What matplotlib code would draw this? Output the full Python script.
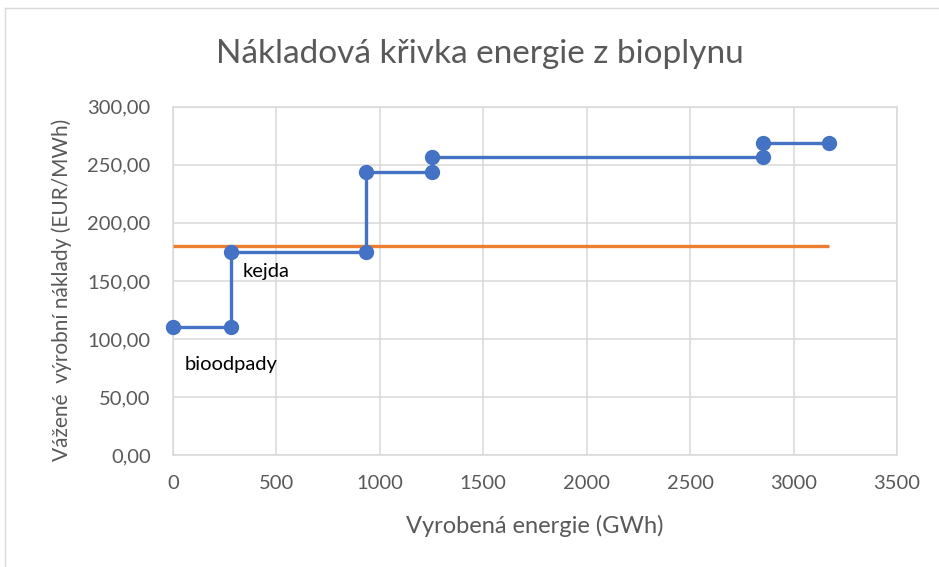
import matplotlib
matplotlib.use("Agg")
import matplotlib.pyplot as plt
from matplotlib.lines import Line2D
from matplotlib.ticker import FuncFormatter

# data
energie = [0, 280, 280, 933, 933, 1254, 1254, 2850, 2850, 3170]
naklady = [110, 110, 175, 175, 244, 244, 257, 257, 269, 269]
hranice_x = [0, 3170]
hranice_y = [180, 180]

popisky = ["bioodpady", "kejda"]
popisky_x = [55, 335]
popisky_y = [78, 158]

x_ticks = [0, 500, 1000, 1500, 2000, 2500, 3000, 3500]
y_ticks = [0, 50, 100, 150, 200, 250, 300]

plt.rcParams['font.family'] = ['Lato', 'DejaVu Sans']
seda = '#595959'

fig = plt.figure(figsize=(9.39, 5.67), dpi=100)
ax = fig.add_axes([0.1842, 0.1972, 0.7711, 0.6146])

ax.plot(hranice_x, hranice_y, color='#ED7D31', lw=2.4, solid_capstyle='butt', zorder=3)
ax.plot(energie, naklady, color='#4472C4', lw=2.4, marker='o', markersize=10,
        zorder=4, clip_on=False)

for t, px, py in zip(popisky, popisky_x, popisky_y):
    ax.text(px, py, t, fontsize=14.5, color='black', va='center', ha='left')

ax.set_xlim(0, 3500)
ax.set_ylim(0, 300)
ax.set_xticks(x_ticks)
ax.set_yticks(y_ticks)
ax.yaxis.set_major_formatter(FuncFormatter(lambda v, p: f"{v:.2f}".replace('.', ',')))
ax.grid(True, color='#D9D9D9', lw=1.1)
ax.set_axisbelow(True)
for s in ax.spines.values():
    s.set_color('#D9D9D9')
    s.set_linewidth(1.1)
ax.tick_params(length=0, labelsize=14.5, colors=seda)
ax.tick_params(axis='y', pad=16)
ax.tick_params(axis='x', pad=14)

ax.set_xlabel("Vyrobená energie (GWh)", fontsize=17, color=seda, labelpad=17)
ax.set_ylabel("Vážené  výrobní náklady (EUR/MWh)", fontsize=15, color=seda)
ax.yaxis.set_label_coords(-0.139, 0.473)
fig.text(0.511, 0.905, "Nákladová křivka energie z bioplynu", fontsize=24, color=seda,
         ha='center', va='center')

# chart frame visible at left and top
fig.add_artist(Line2D([5/939, 5/939], [0, 1 - 8/567], transform=fig.transFigure, color='#D9D9D9', lw=1))
fig.add_artist(Line2D([5/939, 1], [1 - 8/567, 1 - 8/567], transform=fig.transFigure, color='#D9D9D9', lw=1))

fig.savefig("out.png", dpi=100)
